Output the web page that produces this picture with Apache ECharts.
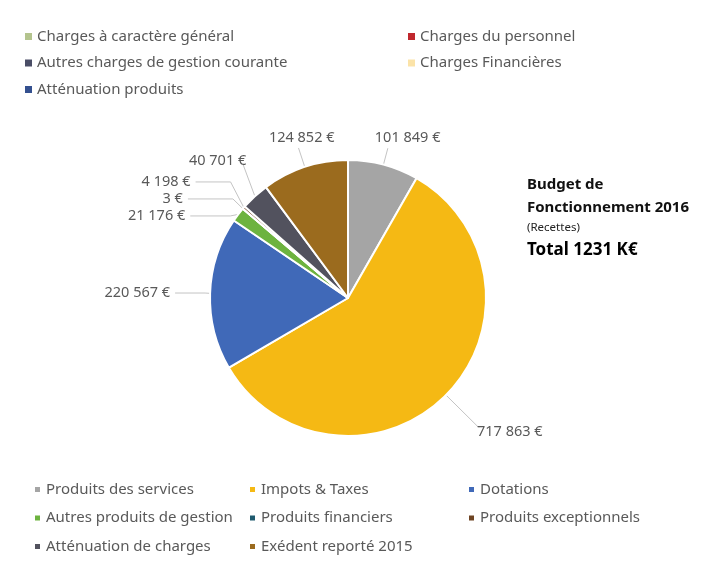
<!DOCTYPE html>
<html>
<head>
<meta charset="utf-8">
<script src="https://cdn.jsdelivr.net/npm/echarts@6/dist/echarts.min.js"></script>
<style>
  html, body { margin: 0; padding: 0; background: #fff; }
  #main { width: 717px; height: 566px; }
</style>
</head>
<body>
<div id="main"></div>
<script>
// recettes 2016, dans l'ordre des parts (sens horaire depuis le haut)
var categories = ['Produits des services', 'Impots & Taxes', 'Dotations', 'Autres produits de gestion',
  'Produits financiers', 'Produits exceptionnels', 'Atténuation de charges', 'Exédent reporté 2015'];
var values = [101849, 717863, 220567, 21176, 3, 4198, 40701, 124852];
var colors = ['#a5a5a5', '#f5b914', '#4069b8', '#6db33f', '#1f5a6e', '#6e4423', '#52525e', '#9b6b1e'];

// légende du graphique des dépenses (reste en haut de l'image)
var chargeNames = ['Charges à caractère général', 'Charges du personnel', 'Autres charges de gestion courante',
  'Charges Financières', 'Atténuation produits'];
var chargeColors = ['#b4c48e', '#c0282d', '#4a4d66', '#fbe3a8', '#34508f'];

// longueurs des traits de rappel et décalage des étiquettes, part par part
var lineLen = [[17, 0], [45, 2], [10, 30], [5, 40], [15, 45], [40, 35], [60, 0], [20, 0]];
var labelShift = [[-18, -10], [-8, 5], [0, 0], [0, 0], [0, 0], [0, 0], [8, -4], [41, -10]];

var chart = echarts.init(document.getElementById('main'));

function fmt(v) {
  return String(v).replace(/\B(?=(\d{3})+(?!\d))/g, ' ') + ' €';
}

var legendText = { color: '#595959', fontSize: 15, fontFamily: 'Noto Sans' };
function legendCol(names, left, top, gap) {
  return {
    orient: 'vertical', left: left, top: top, itemGap: gap,
    icon: 'rect', itemWidth: 7, itemHeight: 7,
    textStyle: legendText, data: names, selectedMode: false
  };
}

var option = {
  backgroundColor: '#fff',
  title: {
    left: 527, top: 173, padding: 0,
    text: '{b|Budget de}\n{b|Fonctionnement 2016}\n{s|(Recettes)}\n{t|Total 1231 K€}',
    textStyle: {
      rich: {
        b: { fontSize: 15, fontWeight: 'bold', color: '#111', fontFamily: 'Noto Sans', lineHeight: 23 },
        s: { fontSize: 11.5, fontWeight: 'normal', color: '#222', fontFamily: 'Noto Sans', lineHeight: 18 },
        t: { fontSize: 17, fontWeight: 'bold', color: '#000', fontFamily: 'Noto Sans', lineHeight: 26 }
      }
    }
  },
  legend: [
    legendCol([chargeNames[0], chargeNames[2], chargeNames[4]], 20, 24, 11.5),
    legendCol([chargeNames[1], chargeNames[3]], 403, 24, 11.5),
    legendCol([categories[0], categories[3], categories[6]], 28, 477, 13.5),
    legendCol([categories[1], categories[4], categories[7]], 243, 477, 13.5),
    legendCol([categories[2], categories[5]], 462, 477, 13.5)
  ],
  series: [
    {
      type: 'pie',
      center: [348, 298],
      radius: 138,
      startAngle: 90,
      silent: true,
      itemStyle: { borderColor: '#fff', borderWidth: 2 },
      label: {
        formatter: function (p) { return fmt(p.value); },
        color: '#595959', fontSize: 14.5, fontFamily: 'Noto Sans'
      },
      labelLine: { lineStyle: { color: '#c4c4c4', width: 1 } },
      labelLayout: function (p) {
        var s = labelShift[p.dataIndex];
        return s ? { dx: s[0], dy: s[1] } : {};
      },
      data: categories.map(function (c, i) {
        return {
          name: c, value: values[i], itemStyle: { color: colors[i] },
          labelLine: { length: lineLen[i][0], length2: lineLen[i][1] }
        };
      })
    },
    {
      // série vide, seulement pour la légende du haut
      type: 'pie',
      center: [0, 0],
      radius: 0,
      silent: true,
      label: { show: false },
      labelLine: { show: false },
      data: chargeNames.map(function (c, i) {
        return { name: c, value: 0, itemStyle: { color: chargeColors[i] } };
      })
    }
  ]
};

chart.setOption(option);
</script>
</body>
</html>
